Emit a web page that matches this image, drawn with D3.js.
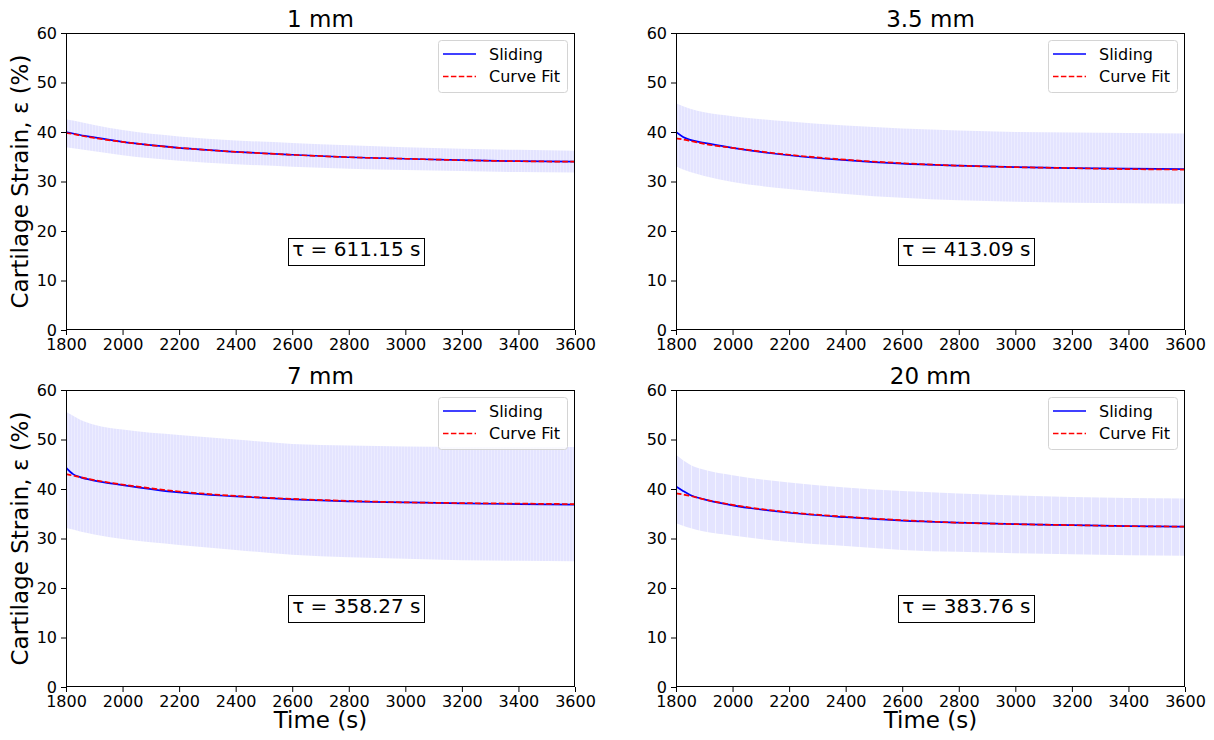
<!DOCTYPE html>
<html>
<head>
<meta charset="utf-8">
<script src="https://cdn.jsdelivr.net/npm/d3@7"></script>
<style>
  html, body { margin: 0; padding: 0; background: #fff; }
  svg { display: block; font-family: "DejaVu Sans", sans-serif; }
</style>
</head>
<body>
<svg id="chart" width="1214" height="740"></svg>
<script>
// ---- data -------------------------------------------------------------
const times = [1800, 1825, 1850, 1900, 2000, 2200, 2400, 2600, 2800, 3000, 3200, 3400, 3600];
const xTicks = [1800, 2000, 2200, 2400, 2600, 2800, 3000, 3200, 3400, 3600];
const yTicks = [0, 10, 20, 30, 40, 50, 60];
const panelTitles = ["1 mm", "3.5 mm", "7 mm", "20 mm"];
const tauValues = ["611.15", "413.09", "358.27", "383.76"];
const legendLabels = ["Sliding", "Curve Fit"];

// 1 mm
const sliding1 = [40.0, 39.7, 39.4, 38.9, 38.0, 36.8, 36.0, 35.4, 34.9, 34.6, 34.3, 34.1, 34.0];
const fit1     = [39.8, 39.6, 39.3, 38.8, 38.0, 36.8, 36.0, 35.4, 34.9, 34.6, 34.3, 34.1, 34.0];
const upper1   = [42.6, 42.3, 42.0, 41.4, 40.4, 39.1, 38.3, 37.8, 37.3, 36.9, 36.6, 36.4, 36.2];
const lower1   = [36.9, 36.7, 36.5, 36.1, 35.3, 34.2, 33.5, 33.0, 32.6, 32.3, 32.1, 31.9, 31.8];

// 3.5 mm
const sliding2 = [40.0, 39.0, 38.4, 37.8, 36.8, 35.3, 34.3, 33.6, 33.2, 32.9, 32.7, 32.6, 32.5];
const fit2     = [38.7, 38.5, 38.2, 37.6, 36.8, 35.4, 34.4, 33.7, 33.2, 32.9, 32.7, 32.5, 32.4];
const upper2   = [45.8, 45.2, 44.7, 44.0, 43.2, 42.1, 41.3, 40.7, 40.3, 40.0, 39.9, 39.8, 39.7];
const lower2   = [33.1, 32.4, 31.9, 31.1, 29.9, 28.5, 27.5, 26.7, 26.2, 25.9, 25.7, 25.6, 25.5];

// 7 mm
const sliding3 = [44.3, 43.0, 42.4, 41.7, 40.8, 39.3, 38.5, 37.9, 37.5, 37.3, 37.1, 36.95, 36.85];
const fit3     = [43.0, 42.7, 42.4, 41.8, 40.9, 39.5, 38.6, 38.0, 37.6, 37.3, 37.15, 37.05, 36.95];
const upper3   = [55.6, 54.8, 54.0, 53.0, 52.0, 50.9, 50.0, 49.1, 48.8, 48.6, 48.5, 48.5, 48.5];
const lower3   = [32.1, 31.8, 31.4, 30.8, 29.9, 28.7, 27.7, 26.7, 26.2, 25.9, 25.6, 25.5, 25.4];

// 20 mm
const sliding4 = [40.5, 39.6, 38.8, 37.9, 36.7, 35.2, 34.3, 33.6, 33.2, 32.9, 32.7, 32.5, 32.4];
const fit4     = [39.1, 38.9, 38.6, 37.9, 36.8, 35.3, 34.4, 33.7, 33.2, 32.9, 32.7, 32.5, 32.4];
const upper4   = [46.9, 45.8, 44.9, 43.9, 42.8, 41.3, 40.3, 39.6, 39.1, 38.7, 38.4, 38.2, 38.1];
const lower4   = [33.1, 32.6, 32.1, 31.4, 30.6, 29.3, 28.5, 27.7, 27.3, 27.0, 26.8, 26.6, 26.5];

const slidingSeries = [sliding1, sliding2, sliding3, sliding4];
const fitSeries = [fit1, fit2, fit3, fit4];
const upperSeries = [upper1, upper2, upper3, upper4];
const lowerSeries = [lower1, lower2, lower3, lower4];

// ---- layout -----------------------------------------------------------
const svg = d3.select("#chart");
const plotW = 509, plotH = 297;
const lefts = [66, 676], tops = [33, 390];
const stripeStep = [3, 3, 3, 8];
const tickFont = 16, titleFont = 23, labelFont = 23, tauFont = 20;

const defs = svg.append("defs");

panelTitles.forEach((title, i) => {
  const col = i % 2, row = Math.floor(i / 2);
  const x0 = lefts[col], y0 = tops[row];

  const x = d3.scaleLinear().domain([1800, 3600]).range([x0, x0 + plotW]);
  const y = d3.scaleLinear().domain([0, 60]).range([y0 + plotH, y0]);

  const g = svg.append("g");

  // clip to plot area
  const clipId = "clip" + i;
  defs.append("clipPath").attr("id", clipId)
    .append("rect").attr("x", x0).attr("y", y0).attr("width", plotW).attr("height", plotH);

  // striped fill for the error band (vertical error bars)
  const patId = "band" + i;
  const pat = defs.append("pattern").attr("id", patId)
    .attr("patternUnits", "userSpaceOnUse")
    .attr("x", x0).attr("y", 0)
    .attr("width", stripeStep[i]).attr("height", 10);
  pat.append("rect").attr("width", stripeStep[i]).attr("height", 10).attr("fill", "rgb(228,228,255)");
  pat.append("rect").attr("x", stripeStep[i] - 1).attr("width", 1).attr("height", 10)
    .attr("fill", i === 3 ? "rgb(243,243,255)" : "rgb(236,236,255)");

  const bandData = times.map((t, k) => ({ t, lo: lowerSeries[i][k], hi: upperSeries[i][k] }));
  const area = d3.area().curve(d3.curveMonotoneX)
    .x(d => x(d.t)).y0(d => y(d.lo)).y1(d => y(d.hi));

  const plot = g.append("g").attr("clip-path", `url(#${clipId})`);
  plot.append("path").datum(bandData).attr("d", area).attr("fill", `url(#${patId})`);

  const line = d3.line().curve(d3.curveMonotoneX).x(d => x(d.t)).y(d => y(d.v));
  plot.append("path")
    .datum(times.map((t, k) => ({ t, v: slidingSeries[i][k] })))
    .attr("d", line).attr("fill", "none").attr("stroke", "#0000ff").attr("stroke-width", 1.7);
  plot.append("path")
    .datum(times.map((t, k) => ({ t, v: fitSeries[i][k] })))
    .attr("d", line).attr("fill", "none").attr("stroke", "#ff0000").attr("stroke-width", 1.7)
    .attr("stroke-dasharray", "5.5,2.4");

  // axes
  const xAxis = g.append("g").attr("transform", `translate(0,${y0 + plotH})`)
    .call(d3.axisBottom(x).tickValues(xTicks).tickFormat(d3.format("d")).tickSize(5).tickPadding(4));
  const yAxis = g.append("g").attr("transform", `translate(${x0},0)`)
    .call(d3.axisLeft(y).tickValues(yTicks).tickFormat(d3.format("d")).tickSize(5).tickPadding(4));
  [xAxis, yAxis].forEach(a => {
    a.select(".domain").remove();
    a.selectAll("text").attr("font-size", tickFont).attr("font-family", "DejaVu Sans").attr("fill", "#000");
    a.selectAll("line").attr("stroke", "#000").attr("stroke-width", 1);
  });

  // frame
  g.append("rect").attr("x", x0 + 0.5).attr("y", y0 + 0.5)
    .attr("width", plotW - 1).attr("height", plotH - 1)
    .attr("fill", "none").attr("stroke", "#000").attr("stroke-width", 1);

  // title
  g.append("text").attr("x", x0 + plotW / 2).attr("y", y0 - 6.5)
    .attr("text-anchor", "middle").attr("font-size", titleFont).text(title);

  // legend
  const lgW = 129, lgH = 52;
  const lgX = x0 + plotW - 8 - lgW, lgY = y0 + 7;
  const lg = g.append("g");
  lg.append("rect").attr("x", lgX + 0.5).attr("y", lgY + 0.5).attr("width", lgW).attr("height", lgH)
    .attr("rx", 3).attr("fill", "#fff").attr("fill-opacity", 0.8)
    .attr("stroke", "#d4d4d4").attr("stroke-width", 1);
  const lgStyles = [{ c: "#0000ff", dash: null }, { c: "#ff0000", dash: "5.5,2.4" }];
  legendLabels.forEach((lab, k) => {
    const cy = lgY + 14 + k * 22.5;
    const ln = lg.append("line").attr("x1", lgX + 5).attr("x2", lgX + 38)
      .attr("y1", cy).attr("y2", cy)
      .attr("stroke", lgStyles[k].c).attr("stroke-width", 1.7);
    if (lgStyles[k].dash) ln.attr("stroke-dasharray", lgStyles[k].dash);
    lg.append("text").attr("x", lgX + 51).attr("y", cy).attr("dy", "0.36em")
      .attr("font-size", tickFont).text(lab);
  });

  // time constant annotation
  const tau = g.append("g");
  const tt = tau.append("text").attr("x", x(2600)).attr("y", y(15))
    .attr("font-size", tauFont).text(`τ = ${tauValues[i]} s`);
  const bb = tt.node().getBBox();
  tau.insert("rect", "text")
    .attr("x", Math.round(bb.x - 4) + 0.5).attr("y", Math.round(bb.y + 1) + 0.5)
    .attr("width", Math.round(bb.width + 8)).attr("height", Math.round(bb.height + 3))
    .attr("fill", "#fff").attr("stroke", "#000").attr("stroke-width", 1);

  // axis labels
  if (col === 0) {
    g.append("text")
      .attr("transform", `translate(28,${y0 + plotH / 2}) rotate(-90)`)
      .attr("text-anchor", "middle").attr("font-size", labelFont)
      .text("Cartilage Strain, ε (%)");
  }
  if (row === 1) {
    g.append("text").attr("x", x0 + plotW / 2).attr("y", 728)
      .attr("text-anchor", "middle").attr("font-size", labelFont).text("Time (s)");
  }
});
</script>
</body>
</html>
